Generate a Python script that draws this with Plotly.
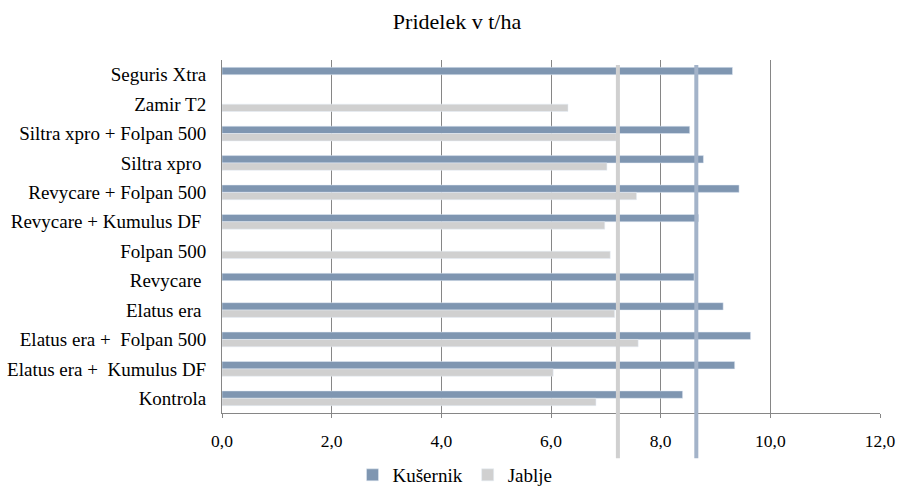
import plotly.graph_objects as go

categories = [
    "Seguris Xtra",
    "Zamir T2",
    "Siltra xpro + Folpan 500",
    "Siltra xpro ",
    "Revycare + Folpan 500",
    "Revycare + Kumulus DF ",
    "Folpan 500",
    "Revycare ",
    "Elatus era ",
    "Elatus era +  Folpan 500",
    "Elatus era +  Kumulus DF",
    "Kontrola",
]
kusernik = [9.31, None, 8.53, 8.78, 9.43, 8.69, None, 8.61, 9.14, 9.64, 9.35, 8.40]
jablje = [None, 6.31, 7.19, 7.02, 7.56, 6.98, 7.08, None, 7.16, 7.59, 6.04, 6.82]
ref_lines = [7.22, 8.65]  # Jablje, Kušernik
x_ticks = [0, 2, 4, 6, 8, 10, 12]
x_ticklabels = ["0,0", "2,0", "4,0", "6,0", "8,0", "10,0", "12,0"]

blue = "#7f96b1"
gray = "#d0d0d0"
font = "Liberation Serif, Times New Roman, serif"

W, H = 900, 486

fig = go.Figure()
fig.add_trace(go.Bar(y=categories, x=kusernik, orientation="h", name="Kušernik",
                     marker=dict(color=blue)))
fig.add_trace(go.Bar(y=categories, x=jablje, orientation="h", name="Jablje",
                     marker=dict(color=gray)))

line_colors = ["#d0d0d0", "#a3b3c9"]
for v, c in zip(ref_lines, line_colors):
    fig.add_shape(type="line", xref="x", yref="paper", x0=v, x1=v,
                  y0=-0.128, y1=0.986, line=dict(color=c, width=4), layer="above")

fig.update_layout(
    width=W, height=H,
    margin=dict(l=222, r=20, t=60, b=73, autoexpand=False),
    paper_bgcolor="white", plot_bgcolor="white",
    barmode="group", bargap=0.5, bargroupgap=0,
    font=dict(family=font, size=19, color="black"),
    title=dict(text="Pridelek v t/ha", x=457/W, xanchor="center", y=1-21/H,
               yanchor="middle", font=dict(family=font, size=22, color="black")),
    legend=dict(orientation="h", x=(455-222)/658, xanchor="center",
                y=(413-475)/353, yanchor="middle", font=dict(family=font, size=19),
                itemwidth=30, traceorder="normal"),
    showlegend=True,
)
fig.update_xaxes(range=[0, 12], tickvals=x_ticks, ticktext=x_ticklabels,
                 showgrid=True, gridcolor="#868686", gridwidth=1,
                 showline=True, linecolor="#868686", linewidth=1,
                 ticks="outside", ticklen=4, tickcolor="#868686",
                 ticklabelstandoff=8, zeroline=False, fixedrange=True,
                 tickfont=dict(size=17.5), automargin=False,
                 ticklabeloverflow="allow")
fig.update_yaxes(autorange="reversed", showline=True, linecolor="#868686", linewidth=1,
                 ticks="", ticklabelstandoff=11, showgrid=False, fixedrange=True,
                 tickfont=dict(size=19), automargin=False)

fig.write_html(
    "out.html",
    config={"displayModeBar": False},
    post_script="document.body.style.margin='0';document.documentElement.style.overflow='hidden';",
)
